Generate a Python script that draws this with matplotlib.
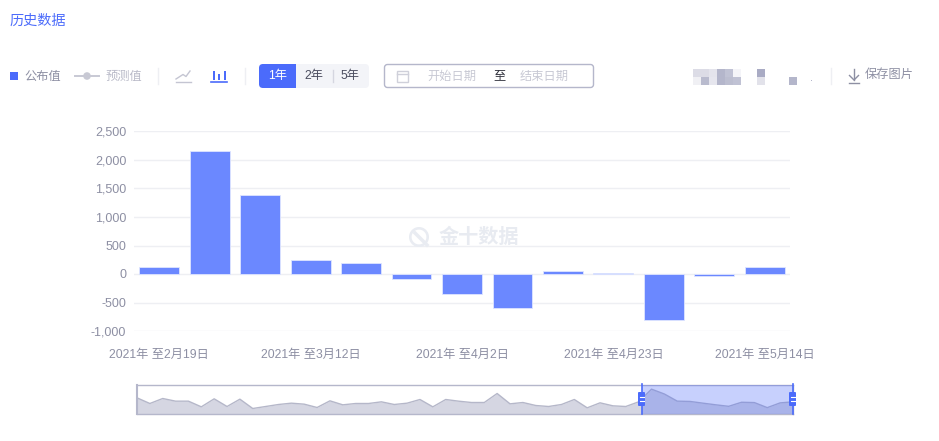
import matplotlib
matplotlib.use("Agg")
import matplotlib.pyplot as plt
from matplotlib.patches import Rectangle, FancyBboxPatch, Circle, Wedge

plt.rcParams['font.family'] = ['Liberation Sans', 'Noto Sans CJK SC', 'DejaVu Sans']

# dados
datas = ["2021年 至2月19日", "2月26日", "3月5日", "2021年 至3月12日", "3月19日", "3月26日",
         "2021年 至4月2日", "4月9日", "4月16日", "2021年 至4月23日", "4月30日", "5月7日",
         "2021年 至5月14日"]
valores = [130, 2160, 1385, 240, 190, -85, -350, -590, 60, 10, -800, -40, 130]
yticks = [-1000, -500, 0, 500, 1000, 1500, 2000, 2500]
xticks_pos = [0, 3, 6, 9, 12]
historico = [771, -137, 664, 237, 237, -671, 611, -618, 557, -938, -618, -297, -84, -244,
             -778, 290, -351, -137, -137, 130, -297, -84, 504, -671, 504, 237, 23,
             23, 1465, -190, 23, -457, -618, -297, 504, -831, -30, -511, -618,
             130, 2160, 1385, 240, 190, -85, -350, -590, 60, 10, -800, -40, 130]

W, H = 939, 441
AZUL = "#4b6bfb"
BARRA = "#6b88ff"
CINZA = "#8d8fa3"
CLARO = "#b9bac8"

fig = plt.figure(figsize=(W / 100, H / 100), dpi=100)


def eixo_px(x0, y0, x1, y1):
    return fig.add_axes([x0 / W, 1 - y1 / H, (x1 - x0) / W, (y1 - y0) / H])


# grafico principal
ax = eixo_px(134, 131.5, 790, 331)
ax.bar(range(len(valores)), valores, width=0.79, color=BARRA, edgecolor="#dfe5ff", linewidth=0.6, zorder=3)
ax.set_xlim(-0.5, 12.5)
ax.set_ylim(-1000, 2500)
ax.set_yticks(yticks)
ax.set_yticklabels([f"{v:,}" for v in yticks], fontsize=9, color=CINZA)
ax.set_xticks(xticks_pos)
ax.set_xticklabels([datas[i] for i in xticks_pos], fontsize=8.8, color=CINZA)
ax.tick_params(length=0)
ax.tick_params(axis="y", pad=5.5)
ax.tick_params(axis="x", pad=13)
ax.grid(True, axis="y", color="#eeeff3", linewidth=1, zorder=0)
ax.set_axisbelow(True)
for s in ax.spines.values():
    s.set_visible(False)

# miniatura
mini = eixo_px(137, 384.5, 793, 413.5)
xs = list(range(len(historico)))
mini.fill_between(xs, historico, -1739, color="#d5d6e2", linewidth=0)
mini.plot(xs, historico, color="#b5b7c9", linewidth=1)
mini.set_xlim(0, len(historico) - 1)
mini.set_ylim(-1739, 2907)
mini.set_xticks([])
mini.set_yticks([])
for s in mini.spines.values():
    s.set_color("#b5b7cb")
    s.set_linewidth(1)
mini.spines["left"].set_linewidth(1.5)

# camada da interface, em pixels
ui = fig.add_axes([0, 0, 1, 1], zorder=5)
ui.set_xlim(0, W)
ui.set_ylim(H, 0)
ui.axis("off")


def texto(x, y, s, cor=CINZA, tam=8.8, ha="left", **kw):
    ui.text(x, y, s, color=cor, fontsize=tam, ha=ha, va="center", **kw)


def caixa(x0, y0, x1, y1, r, **kw):
    ui.add_patch(FancyBboxPatch((x0 + r, y0 + r), x1 - x0 - 2 * r, y1 - y0 - 2 * r,
                                boxstyle=f"round,pad={r},rounding_size={r}", **kw))


texto(9, 21, "历史数据", cor=AZUL, tam=10.2)

# legenda
ui.add_patch(Rectangle((10, 72), 8, 8, color=AZUL, lw=0))
texto(24, 76.5, "公布值")
ui.plot([75, 99], [76, 76], color="#c8c9d4", lw=1.4)
ui.add_patch(Circle((87, 76), 3.8, color="#c8c9d4", lw=0))
texto(105, 76.5, "预测值", cor=CLARO)
ui.plot([157.5, 157.5], [68, 84], color="#eeeff3", lw=1)
ui.plot([244.5, 244.5], [68, 84], color="#eeeff3", lw=1)

# icones
ui.plot([176, 191], [81.5, 81.5], color="#c4c5d2", lw=1)
ui.plot([176, 183, 186, 190], [79, 74.5, 76.5, 71], color="#c4c5d2", lw=1)
ui.plot([211, 227], [81.5, 81.5], color=AZUL, lw=1.2)
for x, y in [(212.5, 71), (218, 74), (224, 71)]:
    ui.add_patch(Rectangle((x, y), 2, 79.5 - y, color=AZUL, lw=0))

# periodo
caixa(259, 64, 369, 88, 4, fc="#f3f4f8", ec="none")
caixa(259, 64, 296, 88, 4, fc=AZUL, ec="none")
ui.add_patch(Rectangle((285, 64), 11, 24, color=AZUL, lw=0))
texto(277.5, 76.5, "1年", cor="white", ha="center")
texto(314, 76.5, "2年", cor="#4a4c5e", ha="center")
texto(350, 76.5, "5年", cor="#4a4c5e", ha="center")
ui.plot([332.5, 332.5], [70, 82], color="#d5d6e0", lw=1)

# datas
caixa(384.5, 64.5, 593.5, 87.5, 3, fc="white", ec="#b5b7cb", lw=1)
ui.add_patch(Rectangle((396.5, 71), 11, 11, fc="none", ec="#cfd0da", lw=1))
ui.plot([396.5, 407.5], [74, 74], color="#cfd0da", lw=1)
texto(427, 76.5, "开始日期", cor="#c8c9d4")
texto(493, 76.5, "至", cor="#33343f")
texto(520, 76.5, "结束日期", cor="#c8c9d4")

# trecho borrado
blocos = [(693, 69, "#dcdce6"), (701, 69, "#dcdce6"), (709, 69, "#e4e4ec"), (717, 69, "#b4b6cb"),
          (725, 69, "#c0c2d4"), (733, 69, "#f4f4f8"), (757, 69, "#a9abc4"),
          (693, 77, "#f0f0f4"), (701, 77, "#b9bbce"), (709, 77, "#e6e6ee"), (717, 77, "#b4b6cb"),
          (725, 77, "#bcbed0"), (733, 77, "#c0c2d4"), (757, 77, "#e2e2ea"), (789, 77, "#b4b6cb")]
for x, y, c in blocos:
    ui.add_patch(Rectangle((x, y), 8, 8, color=c, lw=0))
ui.add_patch(Rectangle((811, 79.5), 1, 1, color="#b4b6cb", lw=0))

# salvar
ui.plot([830.5, 830.5], [68, 84], color="#eeeff3", lw=1)
ui.plot([854, 854], [69, 80], color=CINZA, lw=1)
ui.plot([849.5, 854, 858.5], [75.5, 80, 75.5], color=CINZA, lw=1)
ui.plot([849, 859], [82.5, 82.5], color=CINZA, lw=1)
texto(865, 75, "保存图片")

# marca d'agua
ui.add_patch(Wedge((419, 237), 10, 0, 360, width=2.6, color="#e9ecf2", lw=0))
ui.plot([415, 427], [233, 245], color="#e9ecf2", lw=2.5)
texto(439, 237, "金十数据", cor="#e8ebf1", tam=14.5, fontweight="bold")

# selecao da miniatura
ui.add_patch(Rectangle((641.5, 384.5), 151, 29, color=(70 / 255, 100 / 255, 250 / 255), alpha=0.3, lw=0))
for x in [641.5, 792.5]:
    ui.plot([x, x], [384, 414], color=AZUL, lw=1.2)
    caixa(x - 3.5, 392, x + 3.5, 406, 1, fc=AZUL, ec="none")
    for y in [397, 401]:
        ui.plot([x - 2, x + 2], [y, y], color="white", lw=0.8)

fig.savefig("out.png", dpi=100)
